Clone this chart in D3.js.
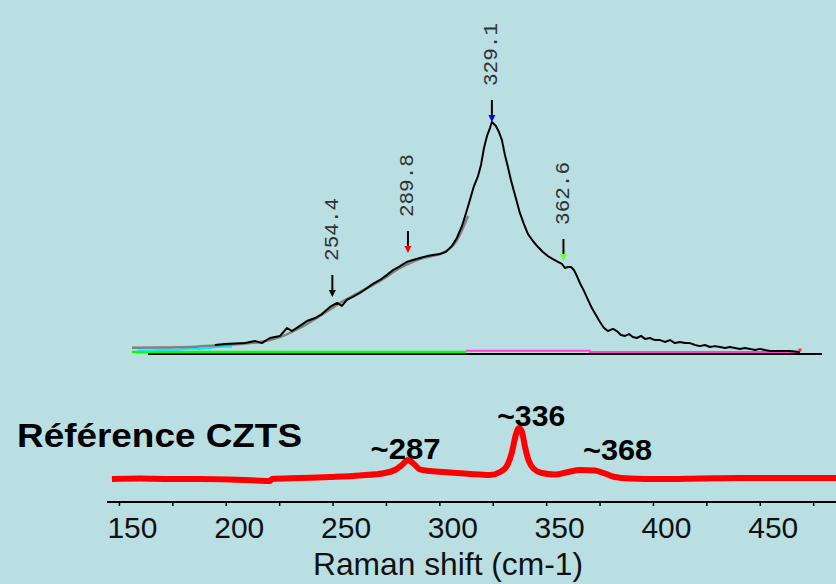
<!DOCTYPE html>
<html><head><meta charset="utf-8">
<script src="https://cdn.jsdelivr.net/npm/d3@7"></script>
<style>html,body{margin:0;padding:0;background:#b9dfe3;} svg{display:block}</style>
</head><body>
<svg id="chart" width="836" height="584"></svg>
<script>
// ---------- DATA ----------
// Measured spectrum (upper plot): Raman shift (cm-1) and relative intensity (%)
const specShift = [199.4,204.1,208.8,213.5,218.2,221.4,225.2,229.9,233.2,235.5,239.2,242.5,246.3,249.5,253.3,256.6,258.9,261.2,264.0,267.3,270.6,273.4,276.7,280.0,282.8,286.1,289.3,292.1,295.4,298.7,301.5,304.8,307.6,310.4,312.7,315.1,317.0,318.8,320.7,322.6,324.0,325.4,326.8,328.2,329.1,331.0,332.4,333.8,335.2,336.6,338.0,339.4,340.8,342.2,344.1,346.0,348.3,350.7,353.0,355.3,357.7,360.0,361.9,363.3,364.7,366.1,367.5,368.9,370.3,372.2,374.1,375.9,377.8,379.7,381.6,383.4,385.8,387.6,389.5,391.4,393.3,395.1,397.0,398.9,400.8,403.1,405.4,407.8,410.1,412.5,414.8,417.1,419.5,421.8,424.2,426.5,428.8,431.2,433.5,435.9,438.2,440.5,442.9,445.2,447.6,449.9,452.3,454.6,456.9,459.3,464.0,468.6,473.3];
const specIntensity = [3.9,4.3,4.5,4.7,5.6,4.7,6.9,7.8,11.2,9.9,12.1,14.2,15.5,17.2,20.3,22.0,20.7,23.3,24.6,26.3,28.4,30.2,31.9,34.1,36.2,37.9,39.7,40.5,41.4,42.2,42.7,43.1,44.0,46.6,50.0,55.2,60.8,66.4,72.4,76.7,81.5,88.8,94.0,97.4,100,98.3,95.7,92.2,85.8,80.6,75.0,70.3,65.5,60.8,56.0,51.7,48.7,46.1,44.0,42.2,40.9,39.7,38.8,37.1,37.5,37.5,36.2,33.6,30.6,27.2,23.3,19.8,16.8,13.8,11.2,9.9,10.8,9.9,8.2,7.8,8.6,7.3,6.9,7.8,6.5,6.9,6.0,6.0,5.2,6.0,4.7,5.2,4.7,4.7,3.9,3.4,3.9,3.0,3.4,3.0,2.6,3.0,2.6,2.2,2.6,2.2,1.7,2.2,1.7,1.3,1.3,1.3,0.9];
// Fitted envelope (grey)
const fitShift = [160.6,173.7,187.7,199.4,211.1,220.5,229.9,239.2,248.6,258.0,267.3,276.7,286.1,290.7,295.4,301.0,304.8,308.5,311.8,315.1,317.9];
const fitIntensity = [2.7,2.8,3.0,3.7,4.3,5.2,7.3,11.2,16.4,22.0,26.7,31.5,37.1,39.2,40.9,42.2,43.1,44.8,47.8,53.4,59.5];
// Low-range trace (cyan)
const cyanShift = [162.9,169.0,173.7,178.4,182.1,185.4,188.7,192.4,197.1,200.8,204.1,207.4];
const cyanIntensity = [1.5,1.5,1.7,1.9,1.7,2.2,2.4,2.2,2.6,3.0,3.2,3.0];
// Baselines
const greenShift = [160.6,317.0];
const greenIntensity = [0.9,0.9];
const magentaShift = [317.0,375.0,375.0,473.3];
const magentaIntensity = [1.4,1.4,0.9,0.9];
const topAxisShift = [168.1,483.6];
// Peak picks
const peakShift = [254.4,289.8,329.1,362.6];
const peakLabel = ["254.4","289.8","329.1","362.6"];
const peakMarkHeight = [24.6,43.5,100,40.1];
const peakColor = ["#000000","#ff0000","#0000ff","#66ff33"];

// Reference CZTS spectrum (lower plot)
const refShift = [146.7,159.8,173.9,187.9,202.0,213.7,220.7,221.6,234.7,248.8,262.8,274.5,279.2,282.5,285.3,288.1,290.9,295.6,305.0,314.3,323.7,328.4,331.6,334.0,335.9,337.3,338.7,340.1,341.9,344.3,348.0,354.1,360.2,365.8,372.8,377.5,382.2,389.2,403.3,422.0,440.7,459.5,485.7];
const refIntensity = [1,1.5,1,1,0.5,-0.5,-1,1,2,3,4.5,7,10,15,20,16,10.5,9,7.5,6,5,8,14,28,46,52,48,33,19,11,7,5.5,8,10,9.5,6.5,3,1.5,1,1.5,2,2,2];
const refPeakShift = [287,336,368];
const refPeakLabel = ["~287","~336","~368"];
const refPeakHeight = [20,52,10];

// Axis
const majorTicks = [150,200,250,300,350,400,450];
const minorTicks = [175,225,275,325,375,425,475];
const axisTitle = "Raman shift (cm-1)";
const refTitle = "Référence CZTS";

// ---------- DRAWING ----------
const svg = d3.select("#chart");
svg.append("rect").attr("width",836).attr("height",584).attr("fill","#b9dfe3");

const x = d3.scaleLinear().domain([144.4,485.7]).range([107,836]);
const xTop = d3.scaleLinear().domain([148.9,490.2]).range([107,836]);
const yTop = d3.scaleLinear().domain([0,100]).range([354,122]);
const yBot = d3.scaleLinear().domain([0,52]).range([480,428]);

const lineTop = (xs, ys) => d3.line().x((d,i)=>xTop(xs[i])).y((d,i)=>yTop(ys[i]))(xs);

// top axis baseline
svg.append("path").attr("d", lineTop(topAxisShift,[0,0]))
  .attr("stroke","#000").attr("stroke-width",2).attr("fill","none");
svg.append("path").attr("d", lineTop(greenShift,greenIntensity))
  .attr("stroke","#00ff00").attr("stroke-width",2.5).attr("fill","none");
svg.append("path").attr("d", lineTop(magentaShift,magentaIntensity))
  .attr("stroke","#ff40d0").attr("stroke-width",2).attr("fill","none");
svg.append("path").attr("d", lineTop(cyanShift,cyanIntensity))
  .attr("stroke","#00eeff").attr("stroke-width",2).attr("fill","none");
svg.append("path")
  .attr("d", d3.line().curve(d3.curveMonotoneX).x((d,i)=>xTop(fitShift[i])).y((d,i)=>yTop(fitIntensity[i]))(fitShift))
  .attr("stroke","#808080").attr("stroke-width",2.5).attr("fill","none");
svg.append("path").attr("d", lineTop(specShift,specIntensity))
  .attr("stroke","#000").attr("stroke-width",2).attr("fill","none").attr("stroke-linejoin","round");

// end marker
svg.append("rect").attr("x",xTop(473.3)-1.5).attr("y",yTop(1.5)-2).attr("width",3).attr("height",3).attr("fill","#ff3030");

// peak arrows
const arrowLen = 22, headH = 7, headW = 7, labelGap = 14;
peakShift.forEach((p,i)=>{
  const px = xTop(p), tip = yTop(peakMarkHeight[i]);
  svg.append("line").attr("x1",px).attr("x2",px).attr("y1",tip-arrowLen).attr("y2",tip-headH+1)
    .attr("stroke","#000").attr("stroke-width",2);
  svg.append("path").attr("d",`M${px-headW/2},${tip-headH}L${px+headW/2},${tip-headH}L${px},${tip}Z`)
    .attr("fill",peakColor[i]);
  svg.append("text").attr("transform",`translate(${px},${tip-arrowLen-labelGap}) rotate(-90)`)
    .attr("dominant-baseline","central").attr("text-anchor","start")
    .attr("font-family","'Liberation Mono','DejaVu Sans Mono',monospace").attr("font-size",21)
    .attr("fill","#333").text(peakLabel[i]);
});

// reference spectrum
svg.append("path")
  .attr("d", d3.line().curve(d3.curveMonotoneX).x((d,i)=>x(refShift[i])).y((d,i)=>yBot(refIntensity[i]))(refShift))
  .attr("stroke","#ff0000").attr("stroke-width",6).attr("fill","none").attr("stroke-linejoin","round");

const refLabelDx = [-6,15,33], refLabelDy = [-1,-2,-10], refLabelLen = [70,68,69];
refPeakShift.forEach((p,i)=>{
  svg.append("text").attr("x",x(p)+refLabelDx[i]).attr("y",yBot(refPeakHeight[i])+refLabelDy[i])
    .attr("text-anchor","middle").attr("font-family","'Liberation Sans',Arial,sans-serif")
    .attr("font-weight","bold").attr("font-size",29).attr("fill","#000")
    .attr("textLength",refLabelLen[i]).attr("lengthAdjust","spacingAndGlyphs").text(refPeakLabel[i]);
});

svg.append("text").attr("x",17).attr("y",447).attr("font-family","'Liberation Sans',Arial,sans-serif")
  .attr("font-weight","bold").attr("font-size",33).attr("fill","#000")
  .attr("textLength",285).attr("lengthAdjust","spacingAndGlyphs").text(refTitle);

// bottom axis
const axisY = 502;
const gMinor = svg.append("g").attr("transform",`translate(0,${axisY})`)
  .call(d3.axisBottom(x).tickValues(minorTicks).tickSize(4).tickSizeOuter(0).tickFormat(""));
gMinor.select(".domain").remove();
gMinor.selectAll("line").attr("stroke","#000").attr("stroke-width",1.5);
const gMajor = svg.append("g").attr("transform",`translate(0,${axisY})`)
  .call(d3.axisBottom(x).tickValues(majorTicks).tickSize(4).tickSizeOuter(0).tickPadding(14));
gMajor.select(".domain").attr("stroke","#000").attr("stroke-width",2).attr("d",`M${x.range()[0]},0H${x.range()[1]}`);
gMajor.selectAll("line").attr("stroke","#000").attr("stroke-width",1.5);
gMajor.selectAll("text").attr("font-family","'Liberation Sans',Arial,sans-serif").attr("font-size",30)
  .attr("fill","#111").attr("dx",13).attr("dy",0).attr("y",36);

svg.append("text").attr("x",448).attr("y",575).attr("text-anchor","middle")
  .attr("font-family","'Liberation Sans',Arial,sans-serif").attr("font-size",32).attr("fill","#111")
  .attr("textLength",270).attr("lengthAdjust","spacingAndGlyphs").text(axisTitle);
</script>
</body></html>
